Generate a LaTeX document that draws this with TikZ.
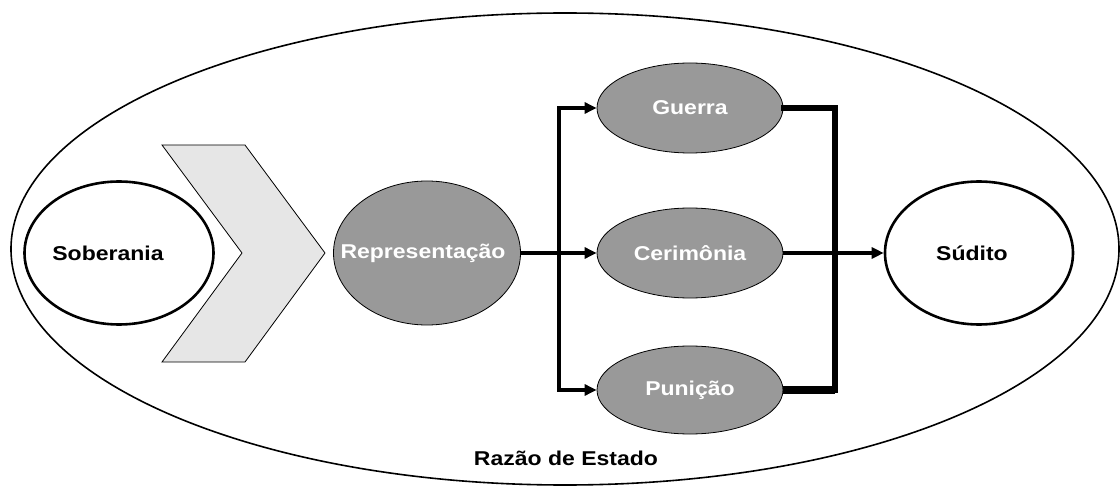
\documentclass[tikz,border=0pt]{standalone}
\usepackage{fontspec}
\setmainfont{Liberation Sans}
\newfontfamily\lblfont[FakeStretch=1.15]{Liberation Sans}
\usetikzlibrary{shapes.geometric,arrows.meta}
\definecolor{midgray}{HTML}{999999}
\definecolor{lightgray}{HTML}{E6E6E6}
\newcommand{\ctext}[2][0pt]{\makebox[0pt][c]{#2\hspace*{#1}}}
\tikzset{
  whiteell/.style={ellipse, draw=black, line width=2.6pt, fill=white, inner sep=0pt,
    font=\lblfont\fontsize{20}{22}\selectfont\bfseries, text=black},
  grayell/.style={ellipse, draw=black, line width=0.8pt, fill=midgray, inner sep=0pt,
    font=\lblfont\fontsize{20}{22}\selectfont\bfseries, text=white},
  ln/.style={line width=3.8pt, draw=black},
  lnr/.style={line width=5.5pt, draw=black},
  arr/.style={line width=3.8pt, draw=black, -{Triangle[length=12pt,width=11pt]}},
}
\begin{document}
\begin{tikzpicture}[x=1pt,y=-1pt]
\useasboundingbox (0,0) rectangle (1120,489);
% outer ellipse
\draw[line width=1.6pt] (565,249) ellipse [x radius=554, y radius=236];
% chevron
\draw[fill=lightgray, line width=0.8pt] (162,145) -- (245,145) -- (325,253) -- (245,362) -- (162,362) -- (242,253) -- cycle;
% nodes
\node[whiteell, minimum width=189pt, minimum height=143pt] (sob) at (119,253) {\ctext[22pt]{Soberania}};
\node[grayell, minimum width=187pt, minimum height=144pt] (rep) at (427,253) {\ctext[8pt]{Representação}};
\node[grayell, minimum width=186pt, minimum height=90pt] (guerra) at (690,108) {\ctext{Guerra}};
\node[grayell, minimum width=186pt, minimum height=90pt] (cer) at (690,253) {\ctext{Cerimônia}};
\node[grayell, minimum width=186pt, minimum height=88pt] (pun) at (690,390) {\ctext{Punição}};
\node[whiteell, minimum width=188pt, minimum height=143pt] (sud) at (979,253) {\ctext[14pt]{Súdito}};
\node[font=\lblfont\fontsize{20}{22}\selectfont\bfseries] (razao) at (566,458) {Razão de Estado};
% connectors
\coordinate (jt) at (559,108);
\coordinate (jb) at (559,390);
\coordinate (rt) at (835,108);
\coordinate (rb) at (835,390);
\draw[ln, line cap=rect] (jt) -- (jb);
\draw[arr] (jt) -- (guerra.west);
\draw[arr] (jb) -- (pun.west);
\draw[arr] (rep.east) -- (cer.west);
\draw[lnr, line join=miter, line cap=rect] (guerra.east) -- (rt) -- (rb);
\draw[line width=7.5pt] (rb) -- (pun.east);
\draw[arr] (cer.east) -- (sud.west);
\end{tikzpicture}
\end{document}
